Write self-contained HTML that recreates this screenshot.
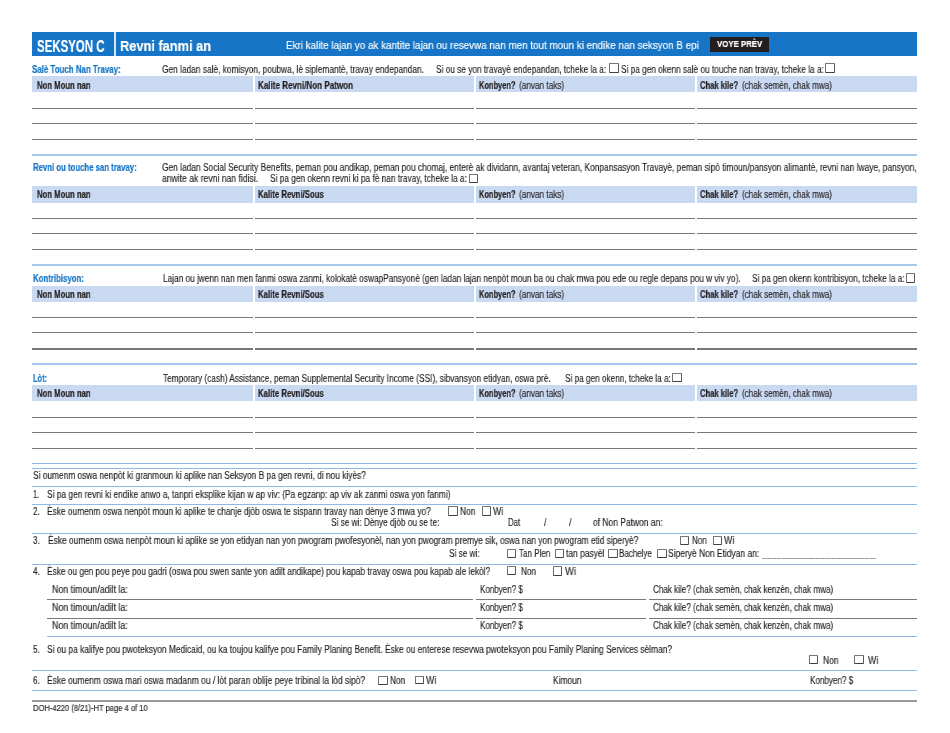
<!DOCTYPE html>
<html><head><meta charset="utf-8"><title>Seksyon C</title>
<style>
html,body{margin:0;padding:0;background:#fff;}
body{width:950px;height:733px;position:relative;overflow:hidden;font-family:"Liberation Sans",sans-serif;color:#231f20;}
.t{position:absolute;white-space:nowrap;transform-origin:0 0;will-change:transform;}
.r{position:absolute;}
.cb{position:absolute;border:1px solid;border-color:#777 #5a5a5a #404040 #707070;border-radius:1px;background:#fff;}
</style></head><body>
<div class="r" style="left:32px;top:32.00px;width:885.00px;height:24.00px;background:#1675c6"></div>
<div class="r" style="left:114px;top:32.00px;width:2.00px;height:24.00px;background:#d9e6f5"></div>
<div class="r" style="left:709.7px;top:37.40px;width:59.50px;height:14.20px;background:#231f20"></div>
<div class="r" style="left:32px;top:76.00px;width:220.50px;height:16.40px;background:#cad9f2"></div>
<div class="r" style="left:255px;top:76.00px;width:218.50px;height:16.40px;background:#cad9f2"></div>
<div class="r" style="left:476px;top:76.00px;width:218.50px;height:16.40px;background:#cad9f2"></div>
<div class="r" style="left:697px;top:76.00px;width:220.00px;height:16.40px;background:#cad9f2"></div>
<div class="r" style="left:32px;top:108.00px;width:220.50px;height:1.00px;background:#787878"></div>
<div class="r" style="left:255px;top:108.00px;width:218.50px;height:1.00px;background:#787878"></div>
<div class="r" style="left:476px;top:108.00px;width:218.50px;height:1.00px;background:#787878"></div>
<div class="r" style="left:697px;top:108.00px;width:220.00px;height:1.00px;background:#787878"></div>
<div class="r" style="left:32px;top:123.00px;width:220.50px;height:1.00px;background:#787878"></div>
<div class="r" style="left:255px;top:123.00px;width:218.50px;height:1.00px;background:#787878"></div>
<div class="r" style="left:476px;top:123.00px;width:218.50px;height:1.00px;background:#787878"></div>
<div class="r" style="left:697px;top:123.00px;width:220.00px;height:1.00px;background:#787878"></div>
<div class="r" style="left:32px;top:139.00px;width:220.50px;height:1.00px;background:#787878"></div>
<div class="r" style="left:255px;top:139.00px;width:218.50px;height:1.00px;background:#787878"></div>
<div class="r" style="left:476px;top:139.00px;width:218.50px;height:1.00px;background:#787878"></div>
<div class="r" style="left:697px;top:139.00px;width:220.00px;height:1.00px;background:#787878"></div>
<div class="r" style="left:32px;top:154.00px;width:885.00px;height:2.00px;background:#a6c8eb"></div>
<div class="r" style="left:32px;top:186.30px;width:220.50px;height:16.40px;background:#cad9f2"></div>
<div class="r" style="left:255px;top:186.30px;width:218.50px;height:16.40px;background:#cad9f2"></div>
<div class="r" style="left:476px;top:186.30px;width:218.50px;height:16.40px;background:#cad9f2"></div>
<div class="r" style="left:697px;top:186.30px;width:220.00px;height:16.40px;background:#cad9f2"></div>
<div class="r" style="left:32px;top:218.00px;width:220.50px;height:1.00px;background:#787878"></div>
<div class="r" style="left:255px;top:218.00px;width:218.50px;height:1.00px;background:#787878"></div>
<div class="r" style="left:476px;top:218.00px;width:218.50px;height:1.00px;background:#787878"></div>
<div class="r" style="left:697px;top:218.00px;width:220.00px;height:1.00px;background:#787878"></div>
<div class="r" style="left:32px;top:233.00px;width:220.50px;height:1.00px;background:#787878"></div>
<div class="r" style="left:255px;top:233.00px;width:218.50px;height:1.00px;background:#787878"></div>
<div class="r" style="left:476px;top:233.00px;width:218.50px;height:1.00px;background:#787878"></div>
<div class="r" style="left:697px;top:233.00px;width:220.00px;height:1.00px;background:#787878"></div>
<div class="r" style="left:32px;top:249.00px;width:220.50px;height:1.00px;background:#787878"></div>
<div class="r" style="left:255px;top:249.00px;width:218.50px;height:1.00px;background:#787878"></div>
<div class="r" style="left:476px;top:249.00px;width:218.50px;height:1.00px;background:#787878"></div>
<div class="r" style="left:697px;top:249.00px;width:220.00px;height:1.00px;background:#787878"></div>
<div class="r" style="left:32px;top:264.00px;width:885.00px;height:2.00px;background:#a6c8eb"></div>
<div class="r" style="left:32px;top:285.60px;width:220.50px;height:16.20px;background:#cad9f2"></div>
<div class="r" style="left:255px;top:285.60px;width:218.50px;height:16.20px;background:#cad9f2"></div>
<div class="r" style="left:476px;top:285.60px;width:218.50px;height:16.20px;background:#cad9f2"></div>
<div class="r" style="left:697px;top:285.60px;width:220.00px;height:16.20px;background:#cad9f2"></div>
<div class="r" style="left:32px;top:317.00px;width:220.50px;height:1.00px;background:#787878"></div>
<div class="r" style="left:255px;top:317.00px;width:218.50px;height:1.00px;background:#787878"></div>
<div class="r" style="left:476px;top:317.00px;width:218.50px;height:1.00px;background:#787878"></div>
<div class="r" style="left:697px;top:317.00px;width:220.00px;height:1.00px;background:#787878"></div>
<div class="r" style="left:32px;top:332.00px;width:220.50px;height:1.00px;background:#787878"></div>
<div class="r" style="left:255px;top:332.00px;width:218.50px;height:1.00px;background:#787878"></div>
<div class="r" style="left:476px;top:332.00px;width:218.50px;height:1.00px;background:#787878"></div>
<div class="r" style="left:697px;top:332.00px;width:220.00px;height:1.00px;background:#787878"></div>
<div class="r" style="left:32px;top:348.00px;width:220.50px;height:2.00px;background:#787878"></div>
<div class="r" style="left:255px;top:348.00px;width:218.50px;height:2.00px;background:#787878"></div>
<div class="r" style="left:476px;top:348.00px;width:218.50px;height:2.00px;background:#787878"></div>
<div class="r" style="left:697px;top:348.00px;width:220.00px;height:2.00px;background:#787878"></div>
<div class="r" style="left:32px;top:363.00px;width:885.00px;height:2.00px;background:#a6c8eb"></div>
<div class="r" style="left:32px;top:384.80px;width:220.50px;height:16.20px;background:#cad9f2"></div>
<div class="r" style="left:255px;top:384.80px;width:218.50px;height:16.20px;background:#cad9f2"></div>
<div class="r" style="left:476px;top:384.80px;width:218.50px;height:16.20px;background:#cad9f2"></div>
<div class="r" style="left:697px;top:384.80px;width:220.00px;height:16.20px;background:#cad9f2"></div>
<div class="r" style="left:32px;top:417.00px;width:220.50px;height:1.00px;background:#787878"></div>
<div class="r" style="left:255px;top:417.00px;width:218.50px;height:1.00px;background:#787878"></div>
<div class="r" style="left:476px;top:417.00px;width:218.50px;height:1.00px;background:#787878"></div>
<div class="r" style="left:697px;top:417.00px;width:220.00px;height:1.00px;background:#787878"></div>
<div class="r" style="left:32px;top:432.00px;width:220.50px;height:1.00px;background:#787878"></div>
<div class="r" style="left:255px;top:432.00px;width:218.50px;height:1.00px;background:#787878"></div>
<div class="r" style="left:476px;top:432.00px;width:218.50px;height:1.00px;background:#787878"></div>
<div class="r" style="left:697px;top:432.00px;width:220.00px;height:1.00px;background:#787878"></div>
<div class="r" style="left:32px;top:448.00px;width:220.50px;height:1.00px;background:#787878"></div>
<div class="r" style="left:255px;top:448.00px;width:218.50px;height:1.00px;background:#787878"></div>
<div class="r" style="left:476px;top:448.00px;width:218.50px;height:1.00px;background:#787878"></div>
<div class="r" style="left:697px;top:448.00px;width:220.00px;height:1.00px;background:#787878"></div>
<div class="r" style="left:32px;top:463.00px;width:885.00px;height:1.00px;background:#8fbae5"></div>
<div class="r" style="left:32px;top:468.00px;width:885.00px;height:1.00px;background:#8fbae5"></div>
<div class="r" style="left:32px;top:486.00px;width:885.00px;height:1.00px;background:#8fbae5"></div>
<div class="r" style="left:32px;top:504.00px;width:885.00px;height:1.00px;background:#8fbae5"></div>
<div class="r" style="left:32px;top:533.00px;width:885.00px;height:1.00px;background:#8fbae5"></div>
<div class="r" style="left:761.5px;top:557.50px;width:114.00px;height:1.10px;background:repeating-linear-gradient(90deg,#9f9f9f 0 4.5px,#c4c4c4 4.5px 4.9px)"></div>
<div class="r" style="left:32px;top:564.00px;width:885.00px;height:1.00px;background:#8fbae5"></div>
<div class="r" style="left:46.8px;top:599.00px;width:426.40px;height:1.00px;background:#787878"></div>
<div class="r" style="left:476.3px;top:599.00px;width:169.50px;height:1.00px;background:#787878"></div>
<div class="r" style="left:648.6px;top:599.00px;width:268.40px;height:1.00px;background:#787878"></div>
<div class="r" style="left:46.8px;top:618.00px;width:426.40px;height:1.00px;background:#787878"></div>
<div class="r" style="left:476.3px;top:618.00px;width:169.50px;height:1.00px;background:#787878"></div>
<div class="r" style="left:648.6px;top:618.00px;width:268.40px;height:1.00px;background:#787878"></div>
<div class="r" style="left:46.8px;top:636.00px;width:870.20px;height:1.00px;background:#8fbae5"></div>
<div class="r" style="left:32px;top:670.00px;width:885.00px;height:1.00px;background:#8fbae5"></div>
<div class="r" style="left:32px;top:690.00px;width:885.00px;height:1.00px;background:#8fbae5"></div>
<div class="r" style="left:32px;top:700.00px;width:885.00px;height:2.00px;background:#9a9a9a"></div>
<div class="t" style="left:37.20px;top:38.56px;font-size:16px;line-height:16px;transform:scaleX(0.7160);font-weight:700;-webkit-text-stroke:0.2px #ffffff;color:#ffffff;">SEKSYON C</div>
<div class="t" style="left:120.17px;top:38.06px;font-size:15.4px;line-height:15.4px;transform:scaleX(0.8319);font-weight:700;-webkit-text-stroke:0.2px #ffffff;color:#ffffff;">Revni fanmi an</div>
<div class="t" style="left:285.80px;top:40.16px;font-size:10.8px;line-height:10.8px;transform:scaleX(0.9109);-webkit-text-stroke:0.15px #ffffff;color:#ffffff;">Ekri kalite lajan yo ak kantite lajan ou resevwa nan men tout moun ki endike nan seksyon B epi</div>
<div class="t" style="left:716.60px;top:38.90px;font-size:9.8px;line-height:9.8px;transform:scaleX(0.7987);font-weight:700;-webkit-text-stroke:0.2px #ffffff;color:#ffffff;">VOYE PRÈV</div>
<div class="t" style="left:32.30px;top:64.73px;font-size:10px;line-height:10px;transform:scaleX(0.7911);font-weight:700;-webkit-text-stroke:0.2px #1675c6;color:#1675c6;">Salè Touch Nan Travay:</div>
<div class="t" style="left:162.10px;top:64.64px;font-size:10px;line-height:10px;transform:scaleX(0.8340);-webkit-text-stroke:0.15px #231f20;">Gen ladan salè, komisyon, poubwa, lè siplemantè, travay endepandan.</div>
<div class="t" style="left:436.00px;top:64.64px;font-size:10px;line-height:10px;transform:scaleX(0.8272);-webkit-text-stroke:0.15px #231f20;">Si ou se yon travayè endepandan, tcheke la a:</div>
<div class="t" style="left:620.80px;top:64.64px;font-size:10px;line-height:10px;transform:scaleX(0.8261);-webkit-text-stroke:0.15px #231f20;">Si pa gen okenn salè ou touche nan travay, tcheke la a:</div>
<div class="t" style="left:36.50px;top:80.84px;font-size:10px;line-height:10px;transform:scaleX(0.7718);font-weight:700;-webkit-text-stroke:0.2px #231f20;">Non Moun nan</div>
<div class="t" style="left:257.60px;top:80.84px;font-size:10px;line-height:10px;transform:scaleX(0.8064);font-weight:700;-webkit-text-stroke:0.2px #231f20;">Kalite Revni/Non Patwon</div>
<div class="t" style="left:478.80px;top:80.84px;font-size:10px;line-height:10px;transform:scaleX(0.7462);font-weight:700;-webkit-text-stroke:0.2px #231f20;">Konbyen?</div>
<div class="t" style="left:519.20px;top:80.84px;font-size:10px;line-height:10px;transform:scaleX(0.8191);-webkit-text-stroke:0.15px #231f20;">(anvan taks)</div>
<div class="t" style="left:699.70px;top:80.84px;font-size:10px;line-height:10px;transform:scaleX(0.7614);font-weight:700;-webkit-text-stroke:0.2px #231f20;">Chak kile?</div>
<div class="t" style="left:741.90px;top:80.84px;font-size:10px;line-height:10px;transform:scaleX(0.8094);-webkit-text-stroke:0.15px #231f20;">(chak semèn, chak mwa)</div>
<div class="t" style="left:32.90px;top:163.44px;font-size:10px;line-height:10px;transform:scaleX(0.7772);font-weight:700;-webkit-text-stroke:0.2px #1675c6;color:#1675c6;">Revni ou touche san travay:</div>
<div class="t" style="left:161.80px;top:163.03px;font-size:10px;line-height:10px;transform:scaleX(0.8370);-webkit-text-stroke:0.15px #231f20;">Gen ladan Social Security Benefits, peman pou andikap, peman pou chomaj, enterè ak dividann, avantaj veteran, Konpansasyon Travayè, peman sipò timoun/pansyon alimantè, revni nan lwaye, pansyon,</div>
<div class="t" style="left:162.00px;top:174.03px;font-size:10px;line-height:10px;transform:scaleX(0.8599);-webkit-text-stroke:0.15px #231f20;">anwite ak revni nan fidisi.</div>
<div class="t" style="left:270.30px;top:174.03px;font-size:10px;line-height:10px;transform:scaleX(0.8299);-webkit-text-stroke:0.15px #231f20;">Si pa gen okenn revni ki pa fè nan travay, tcheke la a:</div>
<div class="t" style="left:36.50px;top:190.44px;font-size:10px;line-height:10px;transform:scaleX(0.7718);font-weight:700;-webkit-text-stroke:0.2px #231f20;">Non Moun nan</div>
<div class="t" style="left:257.60px;top:190.44px;font-size:10px;line-height:10px;transform:scaleX(0.7785);font-weight:700;-webkit-text-stroke:0.2px #231f20;">Kalite Revni/Sous</div>
<div class="t" style="left:478.80px;top:190.44px;font-size:10px;line-height:10px;transform:scaleX(0.7462);font-weight:700;-webkit-text-stroke:0.2px #231f20;">Konbyen?</div>
<div class="t" style="left:519.20px;top:190.44px;font-size:10px;line-height:10px;transform:scaleX(0.8191);-webkit-text-stroke:0.15px #231f20;">(anvan taks)</div>
<div class="t" style="left:699.70px;top:190.44px;font-size:10px;line-height:10px;transform:scaleX(0.7614);font-weight:700;-webkit-text-stroke:0.2px #231f20;">Chak kile?</div>
<div class="t" style="left:741.90px;top:190.44px;font-size:10px;line-height:10px;transform:scaleX(0.8094);-webkit-text-stroke:0.15px #231f20;">(chak semèn, chak mwa)</div>
<div class="t" style="left:32.60px;top:274.13px;font-size:10px;line-height:10px;transform:scaleX(0.7825);font-weight:700;-webkit-text-stroke:0.2px #1675c6;color:#1675c6;">Kontribisyon:</div>
<div class="t" style="left:162.80px;top:274.13px;font-size:10px;line-height:10px;transform:scaleX(0.8266);-webkit-text-stroke:0.15px #231f20;">Lajan ou jwenn nan men fanmi oswa zanmi, kolokatè oswapPansyonè (gen ladan lajan nenpòt moun ba ou chak mwa pou ede ou regle depans pou w viv yo).</div>
<div class="t" style="left:751.80px;top:274.13px;font-size:10px;line-height:10px;transform:scaleX(0.8240);-webkit-text-stroke:0.15px #231f20;">Si pa gen okenn kontribisyon, tcheke la a:</div>
<div class="t" style="left:36.50px;top:290.04px;font-size:10px;line-height:10px;transform:scaleX(0.7718);font-weight:700;-webkit-text-stroke:0.2px #231f20;">Non Moun nan</div>
<div class="t" style="left:257.60px;top:290.04px;font-size:10px;line-height:10px;transform:scaleX(0.7785);font-weight:700;-webkit-text-stroke:0.2px #231f20;">Kalite Revni/Sous</div>
<div class="t" style="left:478.80px;top:290.04px;font-size:10px;line-height:10px;transform:scaleX(0.7462);font-weight:700;-webkit-text-stroke:0.2px #231f20;">Konbyen?</div>
<div class="t" style="left:519.20px;top:290.04px;font-size:10px;line-height:10px;transform:scaleX(0.8191);-webkit-text-stroke:0.15px #231f20;">(anvan taks)</div>
<div class="t" style="left:699.70px;top:290.04px;font-size:10px;line-height:10px;transform:scaleX(0.7614);font-weight:700;-webkit-text-stroke:0.2px #231f20;">Chak kile?</div>
<div class="t" style="left:741.90px;top:290.04px;font-size:10px;line-height:10px;transform:scaleX(0.8094);-webkit-text-stroke:0.15px #231f20;">(chak semèn, chak mwa)</div>
<div class="t" style="left:32.50px;top:373.63px;font-size:10px;line-height:10px;transform:scaleX(0.7495);font-weight:700;-webkit-text-stroke:0.2px #1675c6;color:#1675c6;">Lòt:</div>
<div class="t" style="left:162.60px;top:373.63px;font-size:10px;line-height:10px;transform:scaleX(0.8284);-webkit-text-stroke:0.15px #231f20;">Temporary (cash) Assistance, peman Supplemental Security Income (SSI), sibvansyon etidyan, oswa prè.</div>
<div class="t" style="left:564.80px;top:373.63px;font-size:10px;line-height:10px;transform:scaleX(0.8206);-webkit-text-stroke:0.15px #231f20;">Si pa gen okenn, tcheke la a:</div>
<div class="t" style="left:36.50px;top:389.44px;font-size:10px;line-height:10px;transform:scaleX(0.7718);font-weight:700;-webkit-text-stroke:0.2px #231f20;">Non Moun nan</div>
<div class="t" style="left:257.60px;top:389.44px;font-size:10px;line-height:10px;transform:scaleX(0.7785);font-weight:700;-webkit-text-stroke:0.2px #231f20;">Kalite Revni/Sous</div>
<div class="t" style="left:478.80px;top:389.44px;font-size:10px;line-height:10px;transform:scaleX(0.7462);font-weight:700;-webkit-text-stroke:0.2px #231f20;">Konbyen?</div>
<div class="t" style="left:519.20px;top:389.44px;font-size:10px;line-height:10px;transform:scaleX(0.8191);-webkit-text-stroke:0.15px #231f20;">(anvan taks)</div>
<div class="t" style="left:699.70px;top:389.44px;font-size:10px;line-height:10px;transform:scaleX(0.7614);font-weight:700;-webkit-text-stroke:0.2px #231f20;">Chak kile?</div>
<div class="t" style="left:741.90px;top:389.44px;font-size:10px;line-height:10px;transform:scaleX(0.8094);-webkit-text-stroke:0.15px #231f20;">(chak semèn, chak mwa)</div>
<div class="t" style="left:32.70px;top:471.24px;font-size:10px;line-height:10px;transform:scaleX(0.8351);-webkit-text-stroke:0.15px #231f20;">Si oumenm oswa nenpòt ki granmoun ki aplike nan Seksyon B pa gen revni, di nou kiyès?</div>
<div class="t" style="left:33.30px;top:489.83px;font-size:10px;line-height:10px;transform:scaleX(0.7538);-webkit-text-stroke:0.15px #231f20;">1.</div>
<div class="t" style="left:46.90px;top:489.83px;font-size:10px;line-height:10px;transform:scaleX(0.8363);-webkit-text-stroke:0.15px #231f20;">Si pa gen revni ki endike anwo a, tanpri eksplike kijan w ap viv: (Pa egzanp: ap viv ak zanmi oswa yon fanmi)</div>
<div class="t" style="left:33.30px;top:507.23px;font-size:10px;line-height:10px;transform:scaleX(0.8199);-webkit-text-stroke:0.15px #231f20;">2.</div>
<div class="t" style="left:47.20px;top:507.23px;font-size:10px;line-height:10px;transform:scaleX(0.8337);-webkit-text-stroke:0.15px #231f20;">Èske oumenm oswa nenpòt moun ki aplike te chanje djòb oswa te sispann travay nan dènye 3 mwa yo?</div>
<div class="t" style="left:459.80px;top:507.23px;font-size:10px;line-height:10px;transform:scaleX(0.8435);-webkit-text-stroke:0.15px #231f20;">Non</div>
<div class="t" style="left:493.00px;top:507.23px;font-size:10px;line-height:10px;transform:scaleX(0.8655);-webkit-text-stroke:0.15px #231f20;">Wi</div>
<div class="t" style="left:330.80px;top:518.23px;font-size:10px;line-height:10px;transform:scaleX(0.8224);-webkit-text-stroke:0.15px #231f20;">Si se wi: Dènye djòb ou se te:</div>
<div class="t" style="left:507.60px;top:518.23px;font-size:10px;line-height:10px;transform:scaleX(0.7793);-webkit-text-stroke:0.15px #231f20;">Dat</div>
<div class="t" style="left:543.90px;top:518.23px;font-size:10px;line-height:10px;transform:scaleX(0.8333);-webkit-text-stroke:0.15px #231f20;">/</div>
<div class="t" style="left:569.10px;top:518.23px;font-size:10px;line-height:10px;transform:scaleX(0.8333);-webkit-text-stroke:0.15px #231f20;">/</div>
<div class="t" style="left:593.40px;top:518.23px;font-size:10px;line-height:10px;transform:scaleX(0.8454);-webkit-text-stroke:0.15px #231f20;">of Non Patwon an:</div>
<div class="t" style="left:33.30px;top:536.23px;font-size:10px;line-height:10px;transform:scaleX(0.8199);-webkit-text-stroke:0.15px #231f20;">3.</div>
<div class="t" style="left:47.60px;top:536.23px;font-size:10px;line-height:10px;transform:scaleX(0.8376);-webkit-text-stroke:0.15px #231f20;">Èske oumenm oswa nenpòt moun ki aplike se yon etidyan nan yon pwogram pwofesyonèl, nan yon pwogram premye sik, oswa nan yon pwogram etid siperyè?</div>
<div class="t" style="left:691.60px;top:536.23px;font-size:10px;line-height:10px;transform:scaleX(0.8041);-webkit-text-stroke:0.15px #231f20;">Non</div>
<div class="t" style="left:724.20px;top:536.23px;font-size:10px;line-height:10px;transform:scaleX(0.8830);-webkit-text-stroke:0.15px #231f20;">Wi</div>
<div class="t" style="left:448.80px;top:549.43px;font-size:10px;line-height:10px;transform:scaleX(0.8202);-webkit-text-stroke:0.15px #231f20;">Si se wi:</div>
<div class="t" style="left:518.60px;top:549.43px;font-size:10px;line-height:10px;transform:scaleX(0.8056);-webkit-text-stroke:0.15px #231f20;">Tan Plen</div>
<div class="t" style="left:565.50px;top:549.43px;font-size:10px;line-height:10px;transform:scaleX(0.8443);-webkit-text-stroke:0.15px #231f20;">tan pasyèl</div>
<div class="t" style="left:619.40px;top:549.43px;font-size:10px;line-height:10px;transform:scaleX(0.7985);-webkit-text-stroke:0.15px #231f20;">Bachelye</div>
<div class="t" style="left:668.40px;top:549.43px;font-size:10px;line-height:10px;transform:scaleX(0.8462);-webkit-text-stroke:0.15px #231f20;">Siperyè Non Etidyan an:</div>
<div class="t" style="left:33.30px;top:567.23px;font-size:10px;line-height:10px;transform:scaleX(0.8199);-webkit-text-stroke:0.15px #231f20;">4.</div>
<div class="t" style="left:47.20px;top:567.23px;font-size:10px;line-height:10px;transform:scaleX(0.8314);-webkit-text-stroke:0.15px #231f20;">Èske ou gen pou peye pou gadri (oswa pou swen sante yon adilt andikape) pou kapab travay oswa pou kapab ale lekòl?</div>
<div class="t" style="left:520.90px;top:567.23px;font-size:10px;line-height:10px;transform:scaleX(0.8210);-webkit-text-stroke:0.15px #231f20;">Non</div>
<div class="t" style="left:565.00px;top:567.23px;font-size:10px;line-height:10px;transform:scaleX(0.9442);-webkit-text-stroke:0.15px #231f20;">Wi</div>
<div class="t" style="left:52.10px;top:585.03px;font-size:10px;line-height:10px;transform:scaleX(0.8854);-webkit-text-stroke:0.15px #231f20;">Non timoun/adilt la:</div>
<div class="t" style="left:480.00px;top:585.03px;font-size:10px;line-height:10px;transform:scaleX(0.8027);-webkit-text-stroke:0.15px #231f20;">Konbyen? $</div>
<div class="t" style="left:652.60px;top:585.03px;font-size:10px;line-height:10px;transform:scaleX(0.8104);-webkit-text-stroke:0.15px #231f20;">Chak kile? (chak semèn, chak kenzèn, chak mwa)</div>
<div class="t" style="left:52.10px;top:602.93px;font-size:10px;line-height:10px;transform:scaleX(0.8854);-webkit-text-stroke:0.15px #231f20;">Non timoun/adilt la:</div>
<div class="t" style="left:480.00px;top:602.93px;font-size:10px;line-height:10px;transform:scaleX(0.8027);-webkit-text-stroke:0.15px #231f20;">Konbyen? $</div>
<div class="t" style="left:652.60px;top:602.93px;font-size:10px;line-height:10px;transform:scaleX(0.8104);-webkit-text-stroke:0.15px #231f20;">Chak kile? (chak semèn, chak kenzèn, chak mwa)</div>
<div class="t" style="left:52.10px;top:621.03px;font-size:10px;line-height:10px;transform:scaleX(0.8854);-webkit-text-stroke:0.15px #231f20;">Non timoun/adilt la:</div>
<div class="t" style="left:480.00px;top:621.03px;font-size:10px;line-height:10px;transform:scaleX(0.8027);-webkit-text-stroke:0.15px #231f20;">Konbyen? $</div>
<div class="t" style="left:652.60px;top:621.03px;font-size:10px;line-height:10px;transform:scaleX(0.8104);-webkit-text-stroke:0.15px #231f20;">Chak kile? (chak semèn, chak kenzèn, chak mwa)</div>
<div class="t" style="left:33.30px;top:644.93px;font-size:10px;line-height:10px;transform:scaleX(0.8199);-webkit-text-stroke:0.15px #231f20;">5.</div>
<div class="t" style="left:47.20px;top:644.93px;font-size:10px;line-height:10px;transform:scaleX(0.8366);-webkit-text-stroke:0.15px #231f20;">Si ou pa kalifye pou pwoteksyon Medicaid, ou ka toujou kalifye pou Family Planing Benefit. Èske ou enterese resevwa pwoteksyon pou Family Planing Services sèlman?</div>
<div class="t" style="left:822.80px;top:655.83px;font-size:10px;line-height:10px;transform:scaleX(0.8491);-webkit-text-stroke:0.15px #231f20;">Non</div>
<div class="t" style="left:867.90px;top:655.83px;font-size:10px;line-height:10px;transform:scaleX(0.8742);-webkit-text-stroke:0.15px #231f20;">Wi</div>
<div class="t" style="left:33.30px;top:676.03px;font-size:10px;line-height:10px;transform:scaleX(0.8199);-webkit-text-stroke:0.15px #231f20;">6.</div>
<div class="t" style="left:47.20px;top:676.03px;font-size:10px;line-height:10px;transform:scaleX(0.8429);-webkit-text-stroke:0.15px #231f20;">Èske oumenm oswa mari oswa madanm ou / lòt paran oblije peye tribinal la lòd sipò?</div>
<div class="t" style="left:390.00px;top:676.03px;font-size:10px;line-height:10px;transform:scaleX(0.8266);-webkit-text-stroke:0.15px #231f20;">Non</div>
<div class="t" style="left:426.30px;top:676.03px;font-size:10px;line-height:10px;transform:scaleX(0.8742);-webkit-text-stroke:0.15px #231f20;">Wi</div>
<div class="t" style="left:552.90px;top:676.03px;font-size:10px;line-height:10px;transform:scaleX(0.8397);-webkit-text-stroke:0.15px #231f20;">Kimoun</div>
<div class="t" style="left:809.60px;top:676.03px;font-size:10px;line-height:10px;transform:scaleX(0.8083);-webkit-text-stroke:0.15px #231f20;">Konbyen? $</div>
<div class="t" style="left:32.80px;top:705.06px;font-size:8.2px;line-height:8.2px;transform:scaleX(0.9239);-webkit-text-stroke:0.15px #231f20;">DOH-4220 (8/21)-HT page 4 of 10</div>
<div class="cb" style="left:609.0px;top:63.2px;width:7.8px;height:7.8px"></div>
<div class="cb" style="left:825.3px;top:63.2px;width:7.5px;height:7.5px"></div>
<div class="cb" style="left:469.2px;top:173.6px;width:7.2px;height:7.2px"></div>
<div class="cb" style="left:905.5px;top:272.9px;width:7.7px;height:7.7px"></div>
<div class="cb" style="left:672.2px;top:372.5px;width:7.6px;height:7.6px"></div>
<div class="cb" style="left:448.2px;top:506.3px;width:7.8px;height:7.8px"></div>
<div class="cb" style="left:481.6px;top:506.3px;width:7.7px;height:7.7px"></div>
<div class="cb" style="left:679.6px;top:535.6px;width:7.1px;height:7.1px"></div>
<div class="cb" style="left:713.3px;top:535.6px;width:7.1px;height:7.1px"></div>
<div class="cb" style="left:507.3px;top:548.8px;width:6.9px;height:6.9px"></div>
<div class="cb" style="left:554.7px;top:548.8px;width:6.9px;height:6.9px"></div>
<div class="cb" style="left:608.4px;top:548.8px;width:7.2px;height:7.2px"></div>
<div class="cb" style="left:657.3px;top:548.8px;width:7.3px;height:7.3px"></div>
<div class="cb" style="left:507.3px;top:566.4px;width:6.9px;height:6.9px"></div>
<div class="cb" style="left:552.5px;top:566.4px;width:7.3px;height:7.3px"></div>
<div class="cb" style="left:809.2px;top:654.6px;width:7.3px;height:7.3px"></div>
<div class="cb" style="left:854.4px;top:654.6px;width:7.6px;height:7.6px"></div>
<div class="cb" style="left:378.2px;top:675.5px;width:7.6px;height:7.6px"></div>
<div class="cb" style="left:415.4px;top:675.5px;width:6.7px;height:6.7px"></div>
</body></html>
